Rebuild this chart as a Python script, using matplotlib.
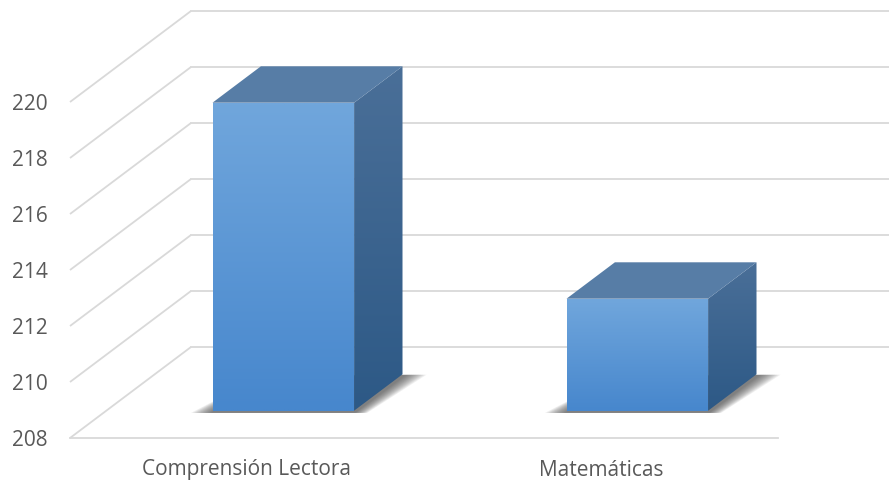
import matplotlib
matplotlib.use("Agg")
import matplotlib.pyplot as plt
import numpy as np
from matplotlib.patches import Polygon

## Data
categories = ["Comprensión Lectora", "Matemáticas"]
values = [219, 212]
y_ticks = [208, 210, 212, 214, 216, 218, 220]

## Layout (slot units on x, value units on y)
Y_MIN, Y_MAX = 208, 220
DEPTH_DX = 121 / 354      # full floor depth, horizontal shift in slots
DEPTH_DY = 91 / 28        # full floor depth, vertical shift in value units
BAR_W = 0.4
BAR_Z0, BAR_Z1 = 0.3, 0.7  # bar depth range (fraction of floor depth)
GRID_COLOR = "#D9D9D9"
TEXT_COLOR = "#595959"
FONT = ["Open Sans", "DejaVu Sans"]


def proj(x, y, z):
    return x + z * DEPTH_DX, y + z * DEPTH_DY


def gradient_face(ax, pts, top_color, bottom_color, zorder):
    poly = Polygon(pts, closed=True, facecolor="none", edgecolor="none", zorder=zorder)
    ax.add_patch(poly)
    c1 = np.array(matplotlib.colors.to_rgb(top_color))
    c2 = np.array(matplotlib.colors.to_rgb(bottom_color))
    t = np.linspace(0, 1, 64)[:, None]
    img = (c1 * (1 - t) + c2 * t)[:, None, :]
    xs = [p[0] for p in pts]
    ys = [p[1] for p in pts]
    im = ax.imshow(img, extent=(min(xs), max(xs), min(ys), max(ys)), origin="upper",
                   aspect="auto", zorder=zorder, interpolation="bilinear")
    im.set_clip_path(poly)


fig = plt.figure(figsize=(8.89, 4.83), dpi=100)
ax = fig.add_axes([0, 0, 1, 1])
ax.set_xlim(-70 / 354, 819 / 354)
ax.set_ylim(Y_MIN - 45 / 28, Y_MIN + 438 / 28)
ax.axis("off")

# walls: side-wall diagonals and back-wall lines
for v in y_ticks:
    x0, y0 = proj(0, v, 0)
    x1, y1 = proj(0, v, 1)
    ax.plot([x0, x1], [y0, y1], color=GRID_COLOR, lw=1.3, zorder=1, solid_capstyle="butt")
    ax.plot([x1, 2 + DEPTH_DX], [y1, y1], color=GRID_COLOR, lw=1.3, zorder=1)
    ax.text(-22 / 354, v - 3 / 28, str(v), ha="right", va="center", fontsize=15,
            color=TEXT_COLOR, family=FONT)
# front floor edge
ax.plot([0, 2], [Y_MIN, Y_MIN], color=GRID_COLOR, lw=1.3, zorder=1)

for i, (cat, val) in enumerate(zip(categories, values)):
    xl = i + 0.5 - BAR_W / 2
    xr = i + 0.5 + BAR_W / 2

    # soft shadow on the floor
    for k in range(12):
        grow = (12 - k) * 1.8 / 354
        drop = 0.08
        pts = [proj(xl - grow, Y_MIN - drop, BAR_Z0), proj(xr + grow * 0.6, Y_MIN - drop, BAR_Z0),
               proj(xr + grow, Y_MIN - drop, BAR_Z1 + 0.02), proj(xl, Y_MIN - drop, BAR_Z1)]
        ax.add_patch(Polygon(pts, closed=True, facecolor="#3a3a3a", edgecolor="none",
                             alpha=0.08, zorder=2))

    # side face
    side = [proj(xr, Y_MIN, BAR_Z0), proj(xr, Y_MIN, BAR_Z1),
            proj(xr, val, BAR_Z1), proj(xr, val, BAR_Z0)]
    gradient_face(ax, side, "#4A6F98", "#2D5986", zorder=3)
    # top face
    top = [proj(xl, val, BAR_Z0), proj(xr, val, BAR_Z0),
           proj(xr, val, BAR_Z1), proj(xl, val, BAR_Z1)]
    ax.add_patch(Polygon(top, closed=True, facecolor="#577DA6", edgecolor="none", zorder=3))
    # front face
    front = [proj(xl, Y_MIN, BAR_Z0), proj(xr, Y_MIN, BAR_Z0),
             proj(xr, val, BAR_Z0), proj(xl, val, BAR_Z0)]
    gradient_face(ax, front, "#70A6DC", "#4787CD", zorder=4)

    ax.text(i + 0.5, Y_MIN - 32 / 28, cat, ha="center", va="center", fontsize=15,
            color=TEXT_COLOR, family=FONT)

fig.savefig("out.png", dpi=100)
